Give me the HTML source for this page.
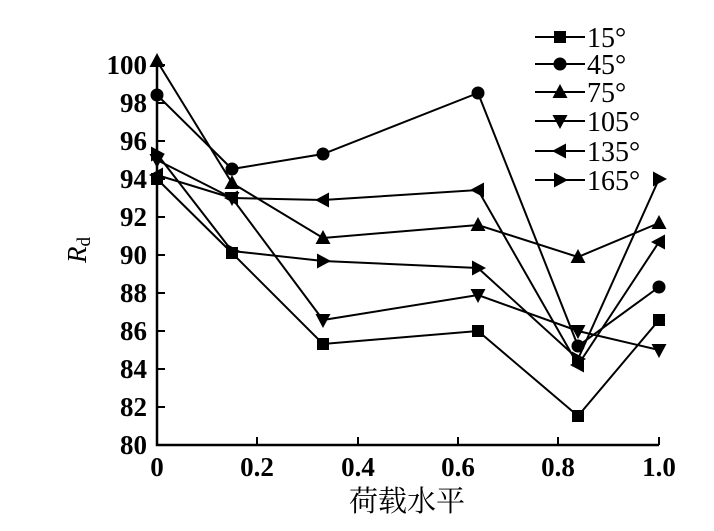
<!DOCTYPE html>
<html><head><meta charset="utf-8"><style>
html,body{margin:0;padding:0;background:#fff;}
svg{display:block;}
text{font-family:"Liberation Serif","Noto Serif CJK SC",serif;fill:#000;}
</style></head><body>
<svg width="714" height="531" viewBox="0 0 714 531" xmlns="http://www.w3.org/2000/svg">
<defs>
<rect id="sq" x="-6" y="-6" width="12" height="12"/>
<circle id="ci" r="6.5"/>
<polygon id="tu" points="0,-8 7.5,6 -7.5,6"/>
<polygon id="td" points="0,8 7.5,-6 -7.5,-6"/>
<polygon id="tl" points="-8,0 6,-7.5 6,7.5"/>
<polygon id="tr" points="8,0 -6,-7.5 -6,7.5"/>
</defs>
<g stroke="#000" stroke-width="2.5" fill="none">
<polyline points="157,65 157,445 659,445"/>
<g stroke-width="2">
<line x1="257" y1="445" x2="257" y2="437"/><line x1="358" y1="445" x2="358" y2="437"/>
<line x1="458" y1="445" x2="458" y2="437"/><line x1="558" y1="445" x2="558" y2="437"/>
<line x1="659" y1="445" x2="659" y2="437"/>
<line x1="157" y1="407" x2="165" y2="407"/><line x1="157" y1="369" x2="165" y2="369"/>
<line x1="157" y1="331" x2="165" y2="331"/><line x1="157" y1="293" x2="165" y2="293"/>
<line x1="157" y1="255" x2="165" y2="255"/><line x1="157" y1="217" x2="165" y2="217"/>
<line x1="157" y1="179" x2="165" y2="179"/><line x1="157" y1="141" x2="165" y2="141"/>
<line x1="157" y1="103" x2="165" y2="103"/><line x1="157" y1="65" x2="165" y2="65"/>
</g>
</g>
<g font-size="27" font-weight="bold" text-anchor="end">
<text x="147" y="454">80</text><text x="147" y="416">82</text><text x="147" y="378">84</text>
<text x="147" y="340">86</text><text x="147" y="302">88</text><text x="147" y="264">90</text>
<text x="147" y="226">92</text><text x="147" y="188">94</text><text x="147" y="150">96</text>
<text x="147" y="112">98</text><text x="147" y="74">100</text>
</g>
<g font-size="27" font-weight="bold" text-anchor="middle">
<text x="157" y="476">0</text><text x="257" y="476">0.2</text><text x="358" y="476">0.4</text>
<text x="458" y="476">0.6</text><text x="558" y="476">0.8</text><text x="659" y="476">1.0</text>
</g>
<text x="407" y="511" font-size="29" text-anchor="middle">荷载水平</text>
<text transform="translate(86,250) rotate(-90)" font-size="27" text-anchor="middle"><tspan font-style="italic">R</tspan><tspan font-size="19" dy="4">d</tspan></text>
<g stroke="#000" stroke-width="2" fill="none">
<polyline points="157,179 232,253 323,344 478,331 578,416 659,320"/>
<polyline points="157,95 232,169 323,154 478,93 578,346 659,287"/>
<polyline points="157,61 232,183 323,238 478,225 578,257 659,223"/>
<polyline points="157,160 232,198 323,320 478,295 578,331 659,350"/>
<polyline points="157,175 232,198 323,200 478,190 578,365 659,242"/>
<polyline points="157,154 232,251 323,261 478,268 578,359 659,179"/>
</g>
<g fill="#000">
<use href="#sq" x="157" y="179"/><use href="#sq" x="232" y="253"/><use href="#sq" x="323" y="344"/><use href="#sq" x="478" y="331"/><use href="#sq" x="578" y="416"/><use href="#sq" x="659" y="320"/>
<use href="#ci" x="157" y="95"/><use href="#ci" x="232" y="169"/><use href="#ci" x="323" y="154"/><use href="#ci" x="478" y="93"/><use href="#ci" x="578" y="346"/><use href="#ci" x="659" y="287"/>
<use href="#tu" x="157" y="61"/><use href="#tu" x="232" y="183"/><use href="#tu" x="323" y="238"/><use href="#tu" x="478" y="225"/><use href="#tu" x="578" y="257"/><use href="#tu" x="659" y="223"/>
<use href="#td" x="157" y="160"/><use href="#td" x="232" y="198"/><use href="#td" x="323" y="320"/><use href="#td" x="478" y="295"/><use href="#td" x="578" y="331"/><use href="#td" x="659" y="350"/>
<use href="#tl" x="157" y="175"/><use href="#tl" x="232" y="198"/><use href="#tl" x="323" y="200"/><use href="#tl" x="478" y="190"/><use href="#tl" x="578" y="365"/><use href="#tl" x="659" y="242"/>
<use href="#tr" x="157" y="154"/><use href="#tr" x="232" y="251"/><use href="#tr" x="323" y="261"/><use href="#tr" x="478" y="268"/><use href="#tr" x="578" y="359"/><use href="#tr" x="659" y="179"/>
</g>
<g stroke="#000" stroke-width="2">
<line x1="535" y1="37" x2="585" y2="37"/><line x1="535" y1="64" x2="585" y2="64"/>
<line x1="535" y1="92" x2="585" y2="92"/><line x1="535" y1="121" x2="585" y2="121"/>
<line x1="535" y1="151" x2="585" y2="151"/><line x1="535" y1="180" x2="585" y2="180"/>
</g>
<g fill="#000">
<use href="#sq" x="560" y="37"/><use href="#ci" x="560" y="64"/><use href="#tu" x="560" y="92"/>
<use href="#td" x="560" y="121"/><use href="#tl" x="560" y="151"/><use href="#tr" x="560" y="180"/>
</g>
<g font-size="28">
<text x="587" y="47">15°</text><text x="587" y="74">45°</text><text x="587" y="102">75°</text>
<text x="587" y="131">105°</text><text x="587" y="161">135°</text><text x="587" y="190">165°</text>
</g>
</svg>
</body></html>
